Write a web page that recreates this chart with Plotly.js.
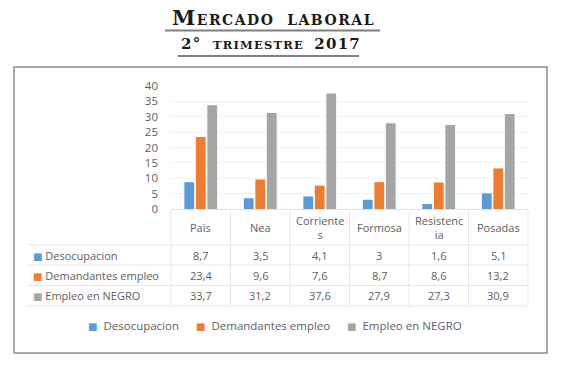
<!DOCTYPE html>
<html>
<head>
<meta charset="utf-8">
<script src="https://cdn.plot.ly/plotly-3.0.1.min.js"></script>
<style>
  html, body { margin: 0; padding: 0; background: #ffffff; }
  #chart { width: 561px; height: 368px; }
</style>
</head>
<body>
<div id="chart"></div>
<script>
// ---- data ----
const categories = ['Pais', 'Nea', 'Corrientes', 'Formosa', 'Resistencia', 'Posadas'];
const headerLabels = ['Pais', 'Nea', 'Corriente<br>s', 'Formosa', 'Resistenc<br>ia', 'Posadas'];
const seriesNames = ['Desocupacion', 'Demandantes empleo', 'Empleo en NEGRO'];
const desocupacion = [8.7, 3.5, 4.1, 3, 1.6, 5.1];
const demandantes = [23.4, 9.6, 7.6, 8.7, 8.6, 13.2];
const empleoNegro = [33.7, 31.2, 37.6, 27.9, 27.3, 30.9];
const yTickValues = [0, 5, 10, 15, 20, 25, 30, 35, 40];

const colors = ['#5B9BD5', '#ED7D31', '#A5A5A5'];
const seriesValues = [desocupacion, demandantes, empleoNegro];

// ---- geometry helpers (layout only) ----
const W = 561, H = 368;
const M = { l: 171, r: 33, t: 86, b: 159 };
const PW = W - M.l - M.r, PH = H - M.t - M.b;
const px = x => (x - M.l) / PW;
const py = y => (H - M.b - y) / PH;

const textFont = 'Open Sans, DejaVu Sans, sans-serif';
const textColor = '#606060';
const tableLine = '#e6e6e6';

const fmt = v => String(v).replace('.', ',');

const traces = seriesNames.map((name, i) => ({
  type: 'bar',
  name: name,
  x: categories,
  y: seriesValues[i],
  marker: { color: colors[i] },
  hoverinfo: 'skip'
}));

const annotations = [];
const shapes = [];

// Title
annotations.push({
  xref: 'paper', yref: 'paper', x: px(273), y: py(17),
  xanchor: 'center', yanchor: 'middle', showarrow: false,
  text: '<b><span style="letter-spacing:1.5px"><span style="font-size:21px">M</span>ERCADO  LABORAL</span></b>',
  font: { family: 'DejaVu Serif, serif', size: 14, color: '#1a1a1a' }
});
annotations.push({
  xref: 'paper', yref: 'paper', x: px(271), y: py(44),
  xanchor: 'center', yanchor: 'middle', showarrow: false,
  text: '<b><span style="letter-spacing:1.2px"><span style="font-size:15px">2° </span> TRIMESTRE  <span style="font-size:15px">2017</span></span></b>',
  font: { family: 'DejaVu Serif, serif', size: 11.5, color: '#1a1a1a' }
});
// title underlines
shapes.push({ type: 'line', xref: 'paper', yref: 'paper', x0: px(165), x1: px(380), y0: py(30.5), y1: py(30.5), line: { color: '#7f7f7f', width: 2 } });
shapes.push({ type: 'line', xref: 'paper', yref: 'paper', x0: px(178), x1: px(359), y0: py(56), y1: py(56), line: { color: '#7f7f7f', width: 2 } });

// outer frame
shapes.push({ type: 'rect', xref: 'paper', yref: 'paper', x0: px(14), x1: px(547), y0: py(67), y1: py(353), line: { color: '#8c8c8c', width: 1.5 }, fillcolor: 'rgba(0,0,0,0)', layer: 'below' });

// table horizontal lines
[245, 265, 285.5, 306].forEach(y => {
  shapes.push({ type: 'line', xref: 'paper', yref: 'paper', x0: px(28), x1: 1, y0: py(y), y1: py(y), line: { color: tableLine, width: 1 } });
});
// table vertical lines at category boundaries
for (let k = 0; k <= categories.length; k++) {
  shapes.push({ type: 'line', xref: 'paper', yref: 'paper', x0: k / categories.length, x1: k / categories.length, y0: py(211), y1: py(306), line: { color: tableLine, width: 1 } });
}

// header row (category labels)
categories.forEach((c, i) => {
  annotations.push({
    xref: 'x', yref: 'paper', x: c, y: py(227.5),
    xanchor: 'center', yanchor: 'middle', showarrow: false,
    text: headerLabels[i],
    font: { family: textFont, size: 11, color: textColor }
  });
});

// table rows
const rowY = [255, 275, 295.5];
seriesNames.forEach((name, s) => {
  annotations.push({
    xref: 'paper', yref: 'paper', x: px(31), y: py(rowY[s]),
    xanchor: 'left', yanchor: 'middle', showarrow: false,
    text: '<span style="color:' + colors[s] + ';font-size:10px">■</span> ' + name,
    font: { family: textFont, size: 11, color: textColor }
  });
  categories.forEach((c, i) => {
    annotations.push({
      xref: 'x', yref: 'paper', x: c, y: py(rowY[s]),
      xanchor: 'center', yanchor: 'middle', showarrow: false,
      text: fmt(seriesValues[s][i]),
      font: { family: textFont, size: 11, color: textColor }
    });
  });
});

// legend (bottom)
const legendX = [86, 194, 345];
seriesNames.forEach((name, s) => {
  annotations.push({
    xref: 'paper', yref: 'paper', x: px(legendX[s]), y: py(325),
    xanchor: 'left', yanchor: 'middle', showarrow: false,
    text: '<span style="color:' + colors[s] + ';font-size:10px">■</span>  ' + name,
    font: { family: textFont, size: 11.5, color: textColor }
  });
});

const layout = {
  width: W, height: H,
  margin: M,
  paper_bgcolor: '#ffffff',
  plot_bgcolor: '#ffffff',
  showlegend: false,
  barmode: 'group',
  bargap: 0.42,
  bargroupgap: 0.15,
  xaxis: {
    type: 'category',
    range: [-0.5, categories.length - 0.5],
    showticklabels: false,
    showgrid: false,
    zeroline: false,
    showline: true,
    linecolor: '#e0e0e0',
    linewidth: 1,
    ticks: '',
    fixedrange: true
  },
  yaxis: {
    range: [0, 40],
    tickvals: yTickValues,
    ticktext: yTickValues.map(String),
    showgrid: true,
    gridcolor: '#f3f3f3',
    zeroline: false,
    showline: false,
    ticks: '',
    ticklabelstandoff: 12,
    tickfont: { family: textFont, size: 11.5, color: textColor },
    fixedrange: true
  },
  annotations: annotations,
  shapes: shapes
};

Plotly.newPlot('chart', traces, layout, { displayModeBar: false, staticPlot: true });
</script>
</body>
</html>
